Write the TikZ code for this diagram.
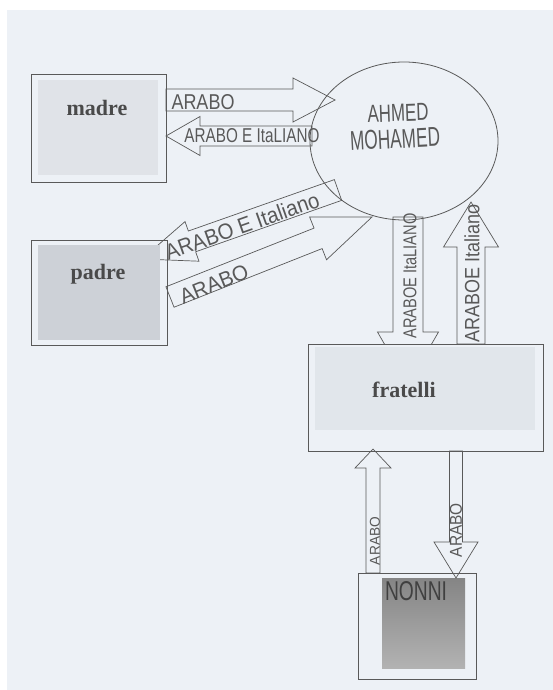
\documentclass[tikz,border=0pt]{standalone}
\usepackage{fontspec}
\setmainfont{Liberation Serif}
\newfontfamily\hwfont{Liberation Sans}
\usepackage{graphicx}
\usetikzlibrary{calc,shapes.geometric}
\definecolor{paper}{HTML}{EDF1F6}
\definecolor{ink}{HTML}{595959}
\definecolor{madrefill}{HTML}{E0E3E8}
\definecolor{padrefill}{HTML}{CDD1D7}
\definecolor{fratfill}{HTML}{E1E6EB}
\definecolor{boldtxt}{HTML}{4A4A4A}
\newcommand\hwtext[3]{\resizebox{#1pt}{#2pt}{\hwfont #3}}
% #1 name, #2 tail, #3 tip, #4 half shaft, #5 half head, #6 head length
\newcommand\fatarrow[6]{%
  \coordinate (#1b) at ($(#3)!#6pt!(#2)$);
  \draw[fatline] ($(#2)!#4pt!90:(#3)$) -- ($(#1b)!#4pt!90:(#3)$) --
    ($(#1b)!#5pt!90:(#3)$) -- (#3) -- ($(#1b)!#5pt!-90:(#3)$) --
    ($(#1b)!#4pt!-90:(#3)$) -- ($(#2)!#4pt!-90:(#3)$) -- cycle;}
\tikzset{
  boxline/.style={draw=ink, line width=0.8pt, inner sep=0pt},
  fatline/.style={draw=ink, line width=0.7pt, line join=miter},
  boldlabel/.style={font=\fontsize{22}{24}\selectfont\bfseries, text=boldtxt, inner sep=0pt},
  hw/.style={inner sep=0pt, text=ink}
}
\begin{document}
\begin{tikzpicture}[x=1pt,y=-1pt]
\useasboundingbox (0,0) rectangle (553,690);
\fill[white] (0,0) rectangle (553,690);
\fill[paper] (7,10) rectangle (553,690);

% ellipse
\node[ellipse, boxline, minimum width=188pt, minimum height=158pt] (ahmed) at (404,141) {};
\node[hw, rotate=2] (ahmedT) at (398,113) {\hwtext{61}{17}{AHMED}};
\node[hw, rotate=3] (mohamedT) at (395,139) {\hwtext{90}{19}{MOHAMED}};

% named end points of connectors
\coordinate (a1t) at (166,100); \coordinate (a1p) at (335,100);
\coordinate (a2t) at (312,136); \coordinate (a2p) at (166,136);
\coordinate (a3t) at (338,190); \coordinate (a3p) at (142,259);
\coordinate (a4t) at (170,297); \coordinate (a4p) at (372,217);
\coordinate (a5t) at (408,217); \coordinate (a5p) at (408,385);
\coordinate (a6t) at (471,344); \coordinate (a6p) at (471,202);
\coordinate (a7t) at (373,573); \coordinate (a7p) at (373,449);
\coordinate (a8t) at (456,451); \coordinate (a8p) at (456,578);

\fatarrow{a1}{a1t}{a1p}{11}{22}{42}
\fatarrow{a2}{a2t}{a2p}{10}{19.5}{34}
\fatarrow{a3}{a3t}{a3p}{11}{21}{53}
\fatarrow{a4}{a4t}{a4p}{11}{23}{58}
\fatarrow{a5}{a5t}{a5p}{15}{30.5}{53}
\fatarrow{a6}{a6t}{a6p}{14}{27.5}{45}

% madre
\fill[madrefill] (38,80) rectangle (158,175);
\node[boxline, minimum width=135pt, minimum height=108pt] (madre) at (98.5,128) {};
\node[boldlabel] (madreT) at (97,108) {madre};

% padre
\fill[padrefill] (38,245) rectangle (160,340);
\node[boxline, minimum width=136pt, minimum height=105pt] (padre) at (99,292.5) {};
\node[boldlabel] (padreT) at (98,274) {padre};

% fratelli
\fill[paper] (308,344) rectangle (543,451);
\fill[fratfill] (315,347) rectangle (535,430);
\node[boxline, minimum width=235pt, minimum height=107pt] (fratelli) at (425.5,397.5) {};
\node[boldlabel] (fratelliT) at (404,390) {fratelli};

% nonni
\shade[top color=black!48, bottom color=black!30] (382,578) rectangle (465,668);
\node[boxline, minimum width=118pt, minimum height=106pt] (nonni) at (417,626) {};
\node[hw, text=black!75] (nonniT) at (416,591) {\hwtext{62}{19}{NONNI}};

\fatarrow{a7}{a7t}{a7p}{7}{18}{19}
\fatarrow{a8}{a8t}{a8p}{6.5}{22}{36}

% arrow labels
\node[hw] (l1) at (203,102) {\hwtext{63}{15}{ARABO}};
\node[hw] (l2) at (252,136) {\hwtext{135}{14}{ARABO E ItaLIANO}};
\node[hw, rotate=19.5] (l3) at (242,226) {\hwtext{162}{16}{ARABO E Italiano}};
\node[hw, rotate=22] (l4) at (214,284) {\hwtext{72}{15}{ARABO}};
\node[hw, rotate=90] (l5) at (410,276) {\hwtext{125}{13}{ARABOE ItaLIANO}};
\node[hw, rotate=90] (l6) at (472,273) {\hwtext{138}{15}{ARABOE Italiano}};
\node[hw, rotate=90] (l7) at (375,541) {\hwtext{48}{10}{ARABO}};
\node[hw, rotate=90] (l8) at (456,530) {\hwtext{54}{12}{ARABO}};
\end{tikzpicture}
\end{document}
